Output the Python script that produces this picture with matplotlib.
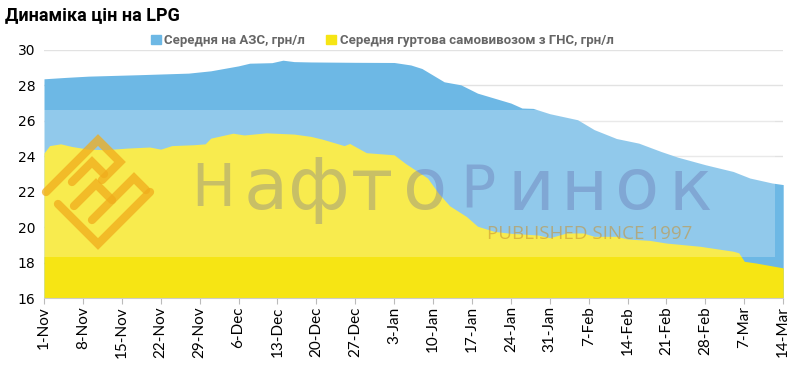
import numpy as np
import pandas as pd
import matplotlib
matplotlib.use("Agg")
import matplotlib.pyplot as plt
from matplotlib.patches import Patch

START = pd.Timestamp("2021-11-01")

# retail average at filling stations (days since 1-Nov, UAH/l)
retail_days = [0, 4, 8, 17, 22, 26, 30, 35, 37, 41, 43, 45, 48, 56, 63, 66, 68, 72, 75,
               78, 81, 84, 86, 88, 91, 96, 99, 103, 107, 111, 114, 119, 124, 127, 131, 133]
retail_vals = [28.37, 28.45, 28.52, 28.60, 28.65, 28.69, 28.82, 29.10, 29.25, 29.28, 29.42,
               29.34, 29.32, 29.30, 29.29, 29.15, 28.95, 28.20, 28.03, 27.56, 27.28, 27.00,
               26.72, 26.70, 26.40, 26.06, 25.50, 25.00, 24.74, 24.27, 23.95, 23.52, 23.14,
               22.77, 22.49, 22.40]

# wholesale average (self-pickup from gas filling stations)
whole_days = [0, 1, 3, 5, 8, 11, 15, 19, 21, 23, 27, 29, 30, 34, 36, 40, 45, 48, 50, 54, 55,
              58, 63, 65, 69, 71, 73, 76, 78, 81, 84, 89, 91, 94, 97, 99, 103, 105, 109, 112,
              118, 124, 125, 126, 128, 133]
whole_vals = [24.18, 24.60, 24.70, 24.55, 24.40, 24.37, 24.46, 24.52, 24.40, 24.60, 24.65,
              24.70, 25.02, 25.30, 25.20, 25.32, 25.25, 25.12, 24.97, 24.60, 24.72, 24.20,
              24.08, 23.60, 22.77, 21.90, 21.20, 20.60, 20.05, 19.76, 19.65, 19.55, 19.40,
              19.67, 19.67, 19.48, 19.48, 19.33, 19.25, 19.10, 18.92, 18.64, 18.55, 18.07,
              17.98, 17.70]

tick_days = list(range(0, 134, 7))
tick_labels = [(START + pd.Timedelta(days=d)).strftime("%-d-%b") for d in tick_days]

retail_label = "Середня на АЗС, грн/л"
whole_label = "Середня гуртова самовивозом з ГНС, грн/л"

BLUE = "#6db8e5"
YELLOW = "#f6e514"

fig = plt.figure(figsize=(8, 3.67), dpi=100)
ax = fig.add_axes([0.055, 0.188, 0.924, 0.676])

ax.fill_between(retail_days, 16, retail_vals, color=BLUE, lw=0, zorder=2)
ax.fill_between(whole_days, 16, whole_vals, color=YELLOW, lw=0, zorder=2.5)
# pale band from the watermark
ax.axhspan(18.34, 26.62, xmin=0, xmax=131.6 / 133, color="white", alpha=0.25, lw=0, zorder=3)

ax.set_xlim(0, 133)
ax.set_ylim(16, 30)
ax.set_yticks(range(16, 31, 2))
ax.yaxis.grid(True, color="#e2e2e2", lw=1, zorder=1)
ax.set_axisbelow(True)
ax.tick_params(axis="y", length=0, labelsize=10, pad=6)
ax.set_xticks(tick_days)
ax.set_xticklabels(tick_labels, rotation=90, fontsize=11, family="Lato")
ax.tick_params(axis="x", length=4, color="#bbbbbb", pad=2)
for side in ["left", "right", "top"]:
    ax.spines[side].set_visible(False)
ax.spines["bottom"].set_color("#cccccc")
ax.spines["bottom"].set_zorder(5)

fig.text(0.006, 0.958, "Динаміка цін на LPG", fontsize=13, fontweight="bold",
         family="Roboto", va="center", ha="left")

handles = [Patch(color=BLUE), Patch(color=YELLOW)]
fig.legend(handles, [retail_label, whole_label], loc="center", ncol=2,
           bbox_to_anchor=(0.478, 0.89), frameon=False, handlelength=0.7,
           handleheight=0.7, handletextpad=0.3, columnspacing=1.6,
           prop={"family": "Roboto", "size": 9.5, "weight": "bold"},
           labelcolor="#666666")

# watermark overlay in pixel coordinates
wm = fig.add_axes([0, 0, 1, 1], zorder=10)
wm.set_xlim(0, 800)
wm.set_ylim(367, 0)
wm.axis("off")
logo = [
    [(46, 192), (98, 140), (120, 162), (102, 180)],
    [(72, 182), (92, 162), (104, 174)],
    [(58, 204), (98, 244), (150, 192)],
    [(74, 206), (96, 184), (112, 200)],
    [(92, 220), (124, 188), (134, 178), (146, 190)],
]
for seg in logo:
    xs, ys = zip(*seg)
    wm.plot(xs, ys, color="#f0ac1c", lw=6, alpha=0.75, solid_capstyle="round",
            solid_joinstyle="miter")
word = "НафтоРинок"
for i, ch in enumerate(word):
    size = 42 if ch.isupper() else 52
    wm.text(213 + i * 53, 190, ch, fontsize=size, color="#5a5aa0", alpha=0.3,
            ha="center", va="center")
wm.text(590, 234, "PUBLISHED SINCE 1997", fontsize=13.5, family="Open Sans",
        color="#c8902c", alpha=0.55, ha="center", va="center")

fig.savefig("out.png", dpi=100)
